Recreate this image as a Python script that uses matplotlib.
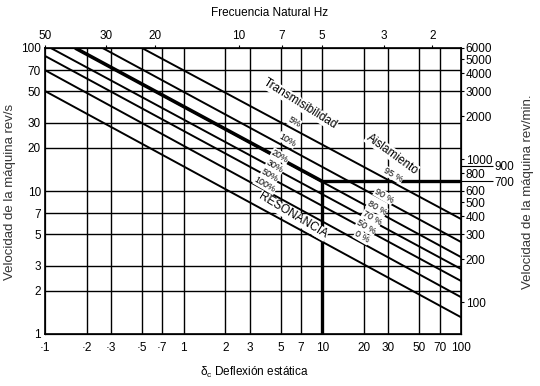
import matplotlib.pyplot as plt

plt.rcParams['font.family'] = ['Liberation Sans', 'DejaVu Sans']
plt.rcParams['mathtext.fontset'] = 'custom'
plt.rcParams['mathtext.rm'] = 'Liberation Sans'
plt.rcParams['mathtext.it'] = 'Liberation Sans'

# static deflection (mm) grid / ticks
x_ticks = [0.1, 0.2, 0.3, 0.5, 0.7, 1, 2, 3, 5, 7, 10, 20, 30, 50, 70, 100]
x_labels = ['·1', '·2', '·3', '·5', '·7', '1', '2', '3', '5', '7',
            '10', '20', '30', '50', '70', '100']
# machine speed rev/s
y_ticks = [1, 2, 3, 5, 7, 10, 20, 30, 50, 70, 100]
# natural frequency Hz (top) and rev/min (right)
freq_ticks = [50, 30, 20, 10, 7, 5, 3, 2]
rpm_ticks = [6000, 5000, 4000, 3000, 2000, 1000, 800, 600, 500, 400, 300, 200, 100]
rpm_extra = [900, 700]

# diagonal lines: start (deflection, rev/s) -> end
line_names = ['resonancia', '0%', '50%', '70%', '80%', '90%', '95%']
line_x0 = [0.1, 0.1, 0.1, 0.11, 0.165, 0.26, 0.5]
line_y0 = [50, 70, 88, 100, 100, 100, 100]
line_x1 = [100, 100, 100, 100, 100, 100, 100]
line_y1 = [1.31, 1.81, 2.35, 2.85, 3.45, 4.40, 6.37]

# operating point: 10 mm deflection, 700 rev/min
op_x = 10
op_rpm = 700

trans_labels = ['5%', '10%', '20%', '30%', '50%', '100%']
iso_labels = ['95 %', '90 %', '80 %', '70 %', '50 %', '0 %']

fig = plt.figure(figsize=(5.4, 3.86), dpi=100)
ax = fig.add_axes([45 / 540, 52 / 386, 416 / 540, 286 / 386])
ax.set_xscale('log')
ax.set_yscale('log')
ax.set_xlim(0.1, 100)
ax.set_ylim(1, 100)

for v in x_ticks[1:-1]:
    ax.axvline(v, color='black', lw=1.0, zorder=1)
for v in y_ticks[1:-1]:
    ax.axhline(v, color='black', lw=1.0, zorder=1)

for x0, y0, x1, y1 in zip(line_x0, line_y0, line_x1, line_y1):
    ax.plot([x0, x1], [y0, y1], color='black', lw=1.4, zorder=2)

op_y = op_rpm / 60
ax.plot([line_x0[4], op_x], [line_y0[4], op_y], color='black', lw=2.6,
        solid_capstyle='butt', zorder=3)
ax.plot([op_x, op_x], [1, op_y], color='black', lw=2.4, solid_capstyle='butt', zorder=3)
ax.plot([op_x, 100], [op_y, op_y], color='black', lw=2.4, solid_capstyle='butt', zorder=3)

ax.set_xticks(x_ticks)
ax.set_xticklabels(x_labels)
ax.set_xticks([], minor=True)
ax.set_yticks(y_ticks)
ax.set_yticklabels([str(v) for v in y_ticks])
ax.set_yticks([], minor=True)
ax.tick_params(axis='both', length=0, labelsize=8.5)
ax.tick_params(axis='x', pad=6)
ax.tick_params(axis='y', pad=3)
for s in ax.spines.values():
    s.set_linewidth(1.2)

# top axis: natural frequency
ax_top = ax.twiny()
ax_top.set_xscale('log')
ax_top.set_xlim(0.1, 100)
ax_top.set_xticks([(15.76 / f) ** 2 for f in freq_ticks])
ax_top.set_xticklabels([str(f) for f in freq_ticks])
ax_top.set_xticks([], minor=True)
ax_top.tick_params(axis='x', length=2.5, width=0.8, pad=1.5, labelsize=8.5)

# right axis: rev/min
ax_r = ax.twinx()
ax_r.set_yscale('log')
ax_r.set_ylim(60, 6000)
ax_r.set_yticks(rpm_ticks)
ax_r.set_yticklabels([str(v) for v in rpm_ticks])
ax_r.set_yticks(rpm_extra, minor=True)
ax_r.set_yticklabels([str(v) for v in rpm_extra], minor=True)
ax_r.tick_params(axis='y', which='major', length=2.5, width=0.8, pad=1, labelsize=8.5)
ax_r.tick_params(axis='y', which='minor', length=23, width=0.8, pad=1, labelsize=8.5)

# annotations
box = dict(fc='white', ec='none', pad=0.3)
ax.text(0.613, 0.804, 'Transmisibilidad', transform=ax.transAxes, rotation=-32,
        ha='center', va='center', fontsize=8.5, bbox=box, zorder=4)
ax.text(0.834, 0.629, 'Aislamiento', transform=ax.transAxes, rotation=-36,
        ha='center', va='center', fontsize=8.5, bbox=box, zorder=4)
ax.text(0.596, 0.413, 'RESONANCIA', transform=ax.transAxes, rotation=-31,
        ha='center', va='center', fontsize=8.5, bbox=box, zorder=4)

trans_pos = [(0.599, 0.741), (0.582, 0.678), (0.565, 0.622),
             (0.553, 0.587), (0.541, 0.556), (0.529, 0.521)]
for lab, (px, py) in zip(trans_labels, trans_pos):
    ax.text(px, py, lab, transform=ax.transAxes, rotation=-30, ha='center',
            va='center', fontsize=6.5, bbox=box, zorder=4)

iso_pos = [(0.837, 0.556), (0.815, 0.483), (0.798, 0.441),
           (0.786, 0.406), (0.772, 0.374), (0.762, 0.339)]
for lab, (px, py) in zip(iso_labels, iso_pos):
    ax.text(px, py, lab, transform=ax.transAxes, rotation=-30, ha='center',
            va='center', fontsize=6.5, bbox=box, zorder=4)

fig.text(270 / 540, 0.966, 'Frecuencia Natural Hz', ha='center', va='center', fontsize=8.5)
fig.text(255 / 540, 0.034, r'$\delta_{c}$ Deflexión estática', ha='center', va='center',
         fontsize=8.5)
fig.text(10 / 540, 0.503, 'Velocidad de la máquina rev/s', rotation=90,
         ha='center', va='center', fontsize=9.5, color='#333333')
fig.text(528 / 540, 0.503, 'Velocidad de la máquina rev/min.', rotation=90,
         ha='center', va='center', fontsize=9.5, color='#333333')

fig.savefig('out.png', dpi=100)
